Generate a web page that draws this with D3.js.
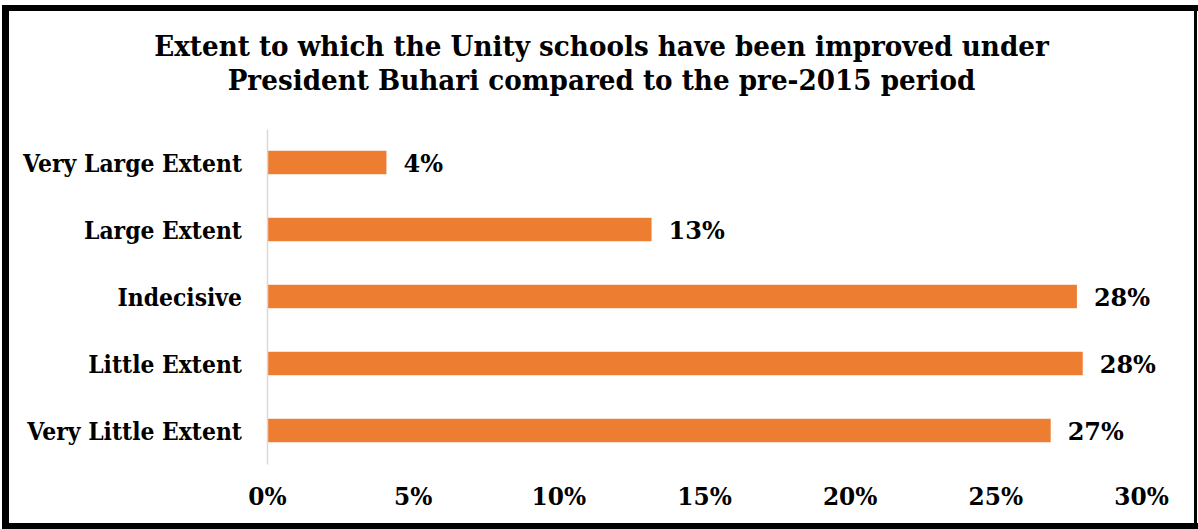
<!DOCTYPE html>
<html>
<head>
<meta charset="utf-8">
<script src="https://cdn.jsdelivr.net/npm/d3@7"></script>
<style>
  html, body { margin: 0; padding: 0; background: #fff; }
  svg { display: block; }
  text { font-family: "DejaVu Serif", "Liberation Serif", serif; font-weight: bold; fill: #000; }
</style>
</head>
<body>
<svg id="chart" width="1198" height="529"></svg>
<script>
// Survey responses, top to bottom
const categories = ["Very Large Extent", "Large Extent", "Indecisive", "Little Extent", "Very Little Extent"];
const shares = [0.041, 0.132, 0.278, 0.280, 0.269];
const xTicks = [0, 0.05, 0.10, 0.15, 0.20, 0.25, 0.30];
const titleLines = [
  "Extent to which the Unity schools have been improved under",
  "President Buhari compared to the pre-2015 period"
];

const W = 1198, H = 529;
const svg = d3.select("#chart");
const pct = d3.format(".0%");

// squeeze a text selection horizontally by a fixed factor
function condense(sel, f) {
  sel.each(function () {
    const w = this.getComputedTextLength();
    d3.select(this).attr("textLength", w * f).attr("lengthAdjust", "spacingAndGlyphs");
  });
}

// frame
svg.append("rect").attr("width", W).attr("height", H).attr("fill", "#fff");
const frame = svg.append("g").attr("fill", "#000");
frame.append("rect").attr("x", 2).attr("y", 5).attr("width", 7).attr("height", 524);
frame.append("rect").attr("x", 2).attr("y", 5).attr("width", 1196).attr("height", 6);
frame.append("rect").attr("x", 1194).attr("y", 5).attr("width", 3).attr("height", 524);
frame.append("rect").attr("x", 2).attr("y", 523).attr("width", 1196).attr("height", 6);

const x = d3.scaleLinear().domain([0, 0.30]).range([267, 1141]);
const y = d3.scaleBand().domain(categories).range([129, 464])
  .paddingInner(0.65).paddingOuter(0.325);

// title
svg.append("g").selectAll("text").data(titleLines).join("text")
  .attr("x", 601.5).attr("y", (d, i) => 56 + i * 34)
  .attr("text-anchor", "middle")
  .style("font-size", "27px")
  .text(d => d)
  .call(condense, 0.972);

// bars
svg.append("g").selectAll("rect").data(categories).join("rect")
  .attr("x", x(0))
  .attr("y", d => y(d))
  .attr("width", (d, i) => x(shares[i]) - x(0))
  .attr("height", y.bandwidth())
  .attr("fill", "#ED7D31");

// category axis
const yAxis = svg.append("g").attr("transform", `translate(${x(0)},0)`)
  .call(d3.axisLeft(y).tickSize(0).tickPadding(25));
yAxis.select(".domain").attr("stroke", "#d9d9d9").attr("stroke-width", 1.5);
yAxis.selectAll(".tick text")
  .attr("dy", null).attr("y", 9.5)
  .style("font-size", "24.5px")
  .call(condense, 0.895);

// value axis (labels only)
const xAxis = svg.append("g").attr("transform", "translate(0,505)")
  .call(d3.axisBottom(x).tickValues(xTicks).tickFormat(pct).tickSize(0).tickPadding(0));
xAxis.select(".domain").remove();
xAxis.selectAll(".tick text").attr("dy", null).attr("y", 0)
  .style("font-size", "24px")
  .call(condense, 0.97);

// value labels
svg.append("g").selectAll("text").data(categories).join("text")
  .attr("x", (d, i) => x(shares[i]) + 17)
  .attr("y", d => y(d) + y.bandwidth() / 2 + 9.5)
  .style("font-size", "24px")
  .text((d, i) => pct(shares[i]));
</script>
</body>
</html>
